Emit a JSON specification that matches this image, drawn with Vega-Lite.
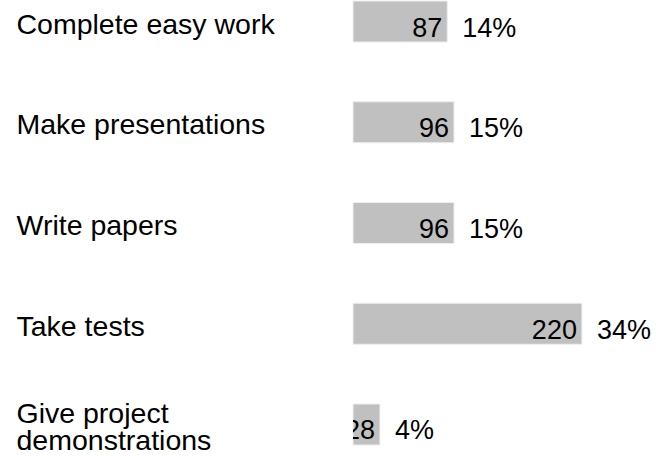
{
  "$schema": "https://vega.github.io/schema/vega-lite/v6.json",
  "autosize": {"type": "none"},
  "padding": {"left": 353, "top": 1, "right": 0, "bottom": 11},
  "width": 303,
  "height": 444,
  "background": "white",
  "config": {"view": {"stroke": null}, "font": "Liberation Sans"},
  "data": {"values": [
    {"activity": "Complete easy work", "count": 87, "share": 0.14},
    {"activity": "Make presentations", "count": 96, "share": 0.15},
    {"activity": "Write papers", "count": 96, "share": 0.15},
    {"activity": "Take tests", "count": 220, "share": 0.34},
    {"activity": "Give project demonstrations", "count": 28, "share": 0.04}
  ]},
  "encoding": {
    "y": {"field": "activity", "type": "nominal", "sort": null,
      "scale": {"paddingInner": 0.593, "paddingOuter": 0},
      "axis": {"title": null, "domain": false, "ticks": false, "labelAlign": "left", "labelPadding": 337,
        "labelLimit": 400, "labelFontSize": 28.5, "labelColor": "black", "labelFont": "Liberation Sans",
        "labelBaseline": "middle", "labelLineHeight": 27,
        "labelOffset": {"condition": {"test": "datum.value == 'Give project demonstrations'", "value": -10.5}, "value": 3},
        "labelExpr": "datum.value == 'Give project demonstrations' ? ['Give project', 'demonstrations'] : datum.value"}
    },
    "x": {"field": "share", "type": "quantitative", "scale": {"domain": [0, 0.45]}, "axis": null}
  },
  "layer": [
    {"mark": {"type": "bar", "color": "#c0c0c0", "stroke": "#eeeeee", "strokeWidth": 1}},
    {"mark": {"type": "text", "align": "right", "baseline": "alphabetic", "dx": -5, "dy": 15, "fontSize": 27, "color": "black", "clip": true},
      "encoding": {"text": {"field": "count", "type": "quantitative"}}},
    {"mark": {"type": "text", "align": "left", "baseline": "alphabetic", "dx": 15, "dy": 15, "fontSize": 27, "color": "black"},
      "encoding": {"text": {"field": "share", "type": "quantitative", "format": ".0%"}}}
  ]
}
